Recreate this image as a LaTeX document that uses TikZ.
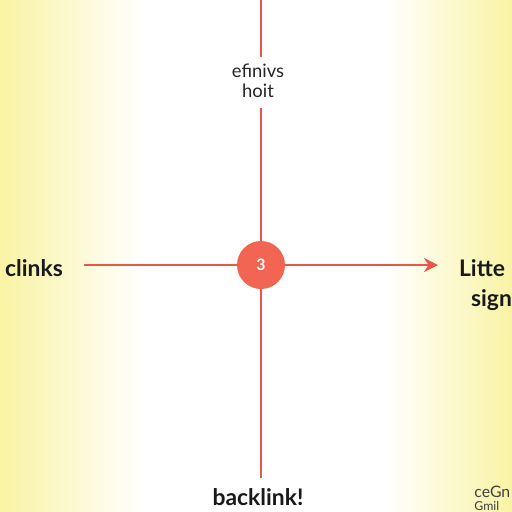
\documentclass[tikz,border=0pt]{standalone}
\usepackage{fontspec}
\setmainfont{Lato}
\usetikzlibrary{arrows.meta,positioning}

\definecolor{axisred}{HTML}{E8584A}
\definecolor{hubred}{HTML}{F26552}
\definecolor{edgeyel}{HTML}{F9F3A4}

\begin{document}
\begin{tikzpicture}[
    x=0.02cm, y=-0.02cm,
    axis/.style={axisred, line width=1.6pt},
    arrow/.style={axis, -{Stealth[length=8pt, width=8pt]}},
    hub/.style={circle, fill=hubred, minimum size=0.96cm, inner sep=0pt, text=white, font=\fontsize{9}{10}\selectfont\bfseries},
    biglbl/.style={font=\fontsize{13}{18}\selectfont\bfseries, text=black!90, inner sep=1pt},
    smalllbl/.style={font=\fontsize{10.5}{11.5}\selectfont, text=black!85, align=center, inner sep=1pt},
    cornerlbl/.style={text=black!75, anchor=west, inner sep=0pt}
]
\useasboundingbox (0,0) rectangle (512,512);
\clip (0,0) rectangle (512,512);

% Background
\fill[white] (0,0) rectangle (512,512);
\fill[left color=edgeyel, right color=white] (0,0) rectangle (145,512);
\fill[left color=white, right color=edgeyel] (385,0) rectangle (512,512);

% Anchors of the axes
\coordinate (vtop) at (261,0);
\coordinate (vbot) at (261,478);
\coordinate (hstart) at (84,265);
\coordinate (hend) at (438,265);

% Labels
\node (toplbl) [smalllbl] at (258,81) {efinivs\\hoit};
\node (clinks) [biglbl] at (34,268) {clinks};
\node (litte) [biglbl, anchor=west] at (457,268) {Litte};
\node (sig) [biglbl, anchor=west] at (469,300) {sign};
\node (backlink) [biglbl] at (258,497) {backlink!};
\node (corner) [cornerlbl, font=\fontsize{9}{10}\selectfont] at (474,492) {ceGn};
\node (corner2) [cornerlbl, font=\fontsize{7}{8}\selectfont] at (474,506) {Gmil};

% Axes
\draw [axis] (vtop) -- ([yshift=0.1cm]vtop |- toplbl.north);
\draw [axis] ([yshift=-0.15cm]vtop |- toplbl.south) -- (vbot);
\draw [arrow] (hstart) -- (hend);

% Hub
\node (hub) [hub] at (261,265) {3};

\end{tikzpicture}
\end{document}
